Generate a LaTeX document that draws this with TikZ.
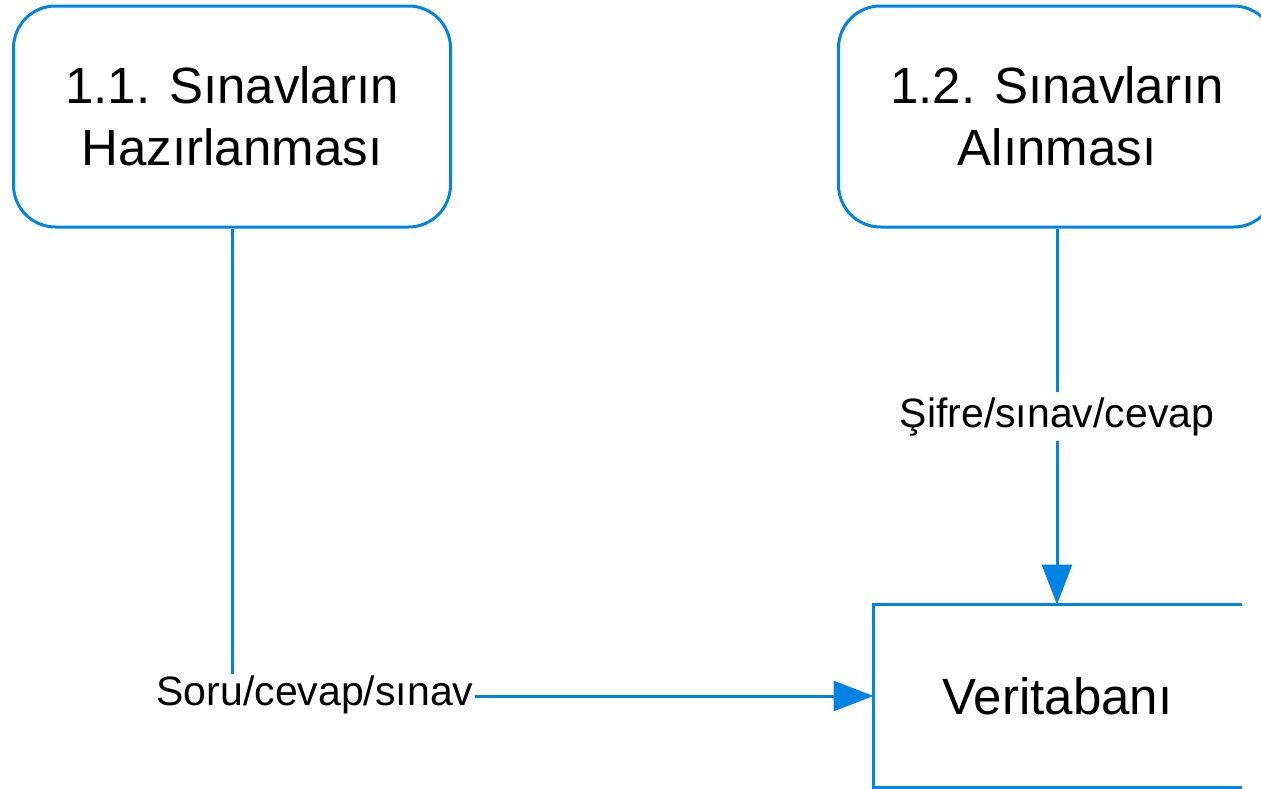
\documentclass[tikz,border=0pt]{standalone}
\usepackage{fontspec}
\setmainfont{Liberation Sans}
\usetikzlibrary{arrows.meta}
\definecolor{flowblue}{RGB}{0,132,228}
\begin{document}
\begin{tikzpicture}[x=1pt, y=-1pt, line width=3pt,
	proc/.style={draw=flowblue, rounded corners=42pt, minimum width=437pt, minimum height=221pt, align=center, font=\fontsize{51}{62}\selectfont},
	store/.style={minimum width=365pt, minimum height=180pt, font=\fontsize{51}{62}\selectfont},
	flow/.style={draw=flowblue, -{Triangle[length=40pt,width=30pt]}},
	lbl/.style={font=\fontsize{41}{49}\selectfont, inner sep=0pt}]
	\useasboundingbox (0,0) rectangle (1261,788);

	\node[proc] (prep) at (232,116.5) {1.1. Sınavların\\Hazırlanması};
	\node[proc] (take) at (1057,116.5) {1.2. Sınavların\\Alınması};
	\node[store] (db) at (1057.5,696) {Veritabanı};
	\draw[flowblue] (db.north east) -- (db.north west) -- (db.south west) -- (db.south east);

	\node[lbl, anchor=base] (soru) at (315,705) {Soru/cevap/sınav};
	\draw[flowblue] (prep.south) -- (prep.south |- soru.north);
	\draw[flow] (soru.east |- db.west) -- (db.west);

	\draw[flow] (take.south) -- node[lbl, fill=white, inner ysep=5pt] (sifre) {Şifre/sınav/cevap} (take.south |- db.north);
\end{tikzpicture}
\end{document}
